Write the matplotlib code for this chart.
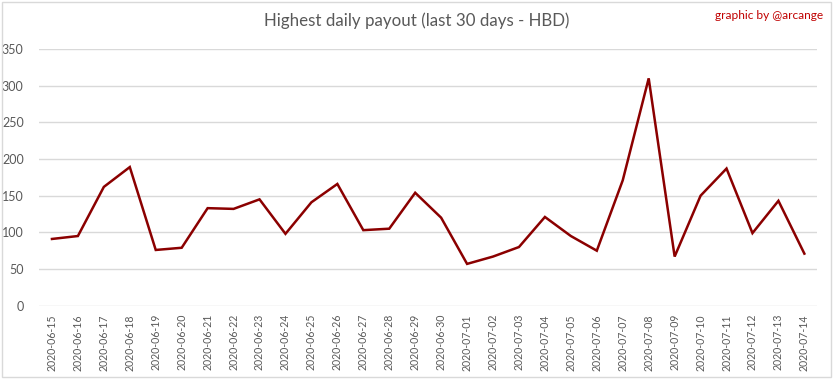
import matplotlib
matplotlib.use('Agg')
import matplotlib.pyplot as plt
from matplotlib.patches import Rectangle

# Data
dates = ['2020-06-15', '2020-06-16', '2020-06-17', '2020-06-18', '2020-06-19',
         '2020-06-20', '2020-06-21', '2020-06-22', '2020-06-23', '2020-06-24',
         '2020-06-25', '2020-06-26', '2020-06-27', '2020-06-28', '2020-06-29',
         '2020-06-30', '2020-07-01', '2020-07-02', '2020-07-03', '2020-07-04',
         '2020-07-05', '2020-07-06', '2020-07-07', '2020-07-08', '2020-07-09',
         '2020-07-10', '2020-07-11', '2020-07-12', '2020-07-13', '2020-07-14']
payout = [91, 95, 162, 189, 76, 79, 133, 132, 145, 98,
          141, 166, 103, 105, 154, 120, 57, 67, 80, 121,
          95, 75, 171, 310, 67, 150, 187, 99, 143, 71]
yticks = [0, 50, 100, 150, 200, 250, 300, 350]

plt.rcParams['font.family'] = ['Lato', 'DejaVu Sans']
txt = '#595959'

fig = plt.figure(figsize=(8.33, 3.79), dpi=100)
ax = fig.add_axes([0.0468, 0.1934, 0.9344, 0.6773])

x = list(range(len(dates)))
ax.plot(x, payout, color='#8B0000', lw=1.8, solid_joinstyle='miter')

ax.set_xlim(-0.5, len(dates) - 0.5)
ax.set_ylim(0, 350)
ax.set_yticks(yticks)
ax.set_xticks(x)
ax.set_xticklabels(dates, rotation=90, fontsize=7.6, color=txt)
ax.tick_params(axis='y', labelsize=9, colors=txt, length=0, pad=11)
ax.tick_params(axis='x', length=0, pad=6)
ax.grid(axis='y', color='#D9D9D9', lw=1)
ax.set_axisbelow(True)
for s in ax.spines.values():
    s.set_visible(False)

fig.text(0.5, 0.945, 'Highest daily payout (last 30 days - HBD)', ha='center', va='center',
         fontsize=12.2, color=txt)
fig.text(0.988, 0.96, 'graphic by @arcange', ha='right', va='center',
         fontsize=8.6, color='#C00000')

fig.patches.append(Rectangle((0.002, 0.004), 0.996, 0.992, transform=fig.transFigure,
                             fill=False, edgecolor='#D9D9D9', lw=1))

fig.savefig('out.png', dpi=100)
